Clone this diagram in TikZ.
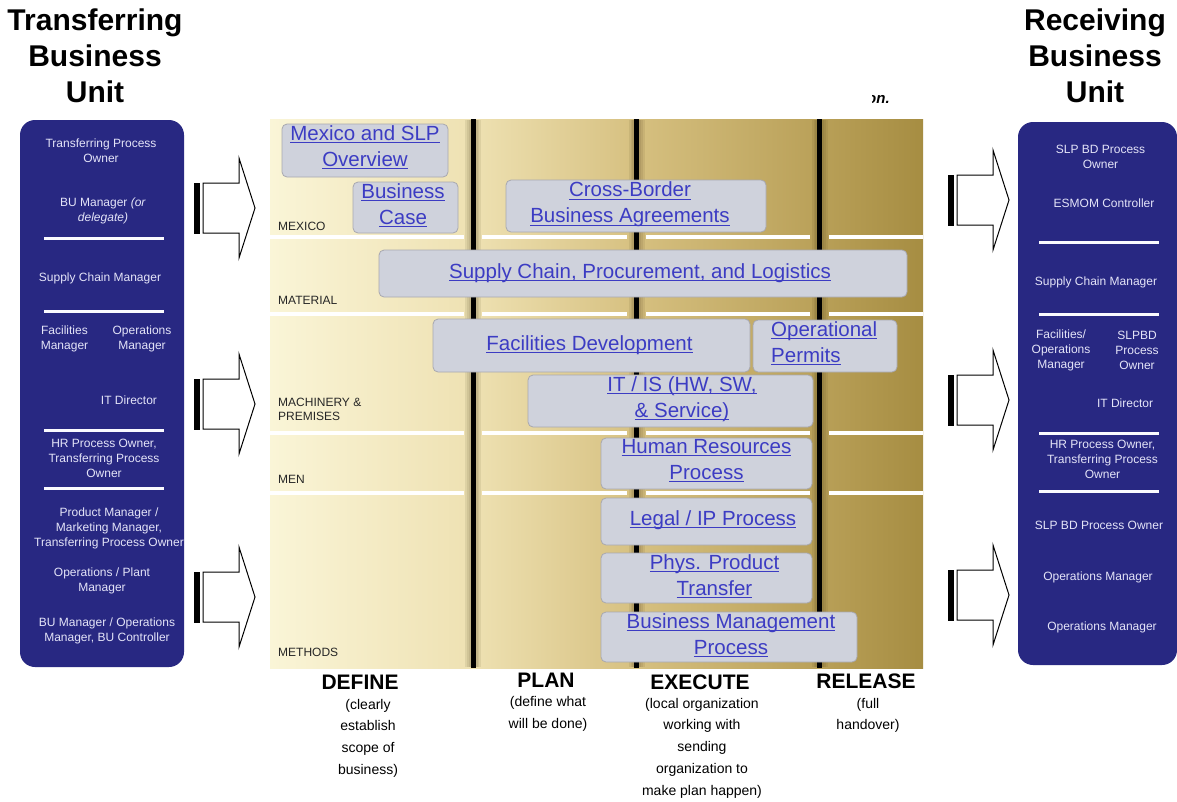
\documentclass[tikz,border=0pt]{standalone}
\usepackage{fontspec}
\setmainfont{Liberation Sans}

\definecolor{unitblue}{RGB}{40,40,130}
\definecolor{unittext}{RGB}{228,228,248}
\definecolor{unitrulec}{RGB}{250,250,255}
\definecolor{linkblue}{RGB}{60,60,195}
\definecolor{boxfill}{RGB}{207,210,220}
\definecolor{boxline}{RGB}{168,168,175}
\definecolor{goldA}{RGB}{250,245,215}
\definecolor{goldB}{RGB}{238,225,178}
\definecolor{goldC}{RGB}{214,192,128}
\definecolor{goldD}{RGB}{185,160,88}
\definecolor{goldE}{RGB}{166,141,66}
\definecolor{glowc}{RGB}{70,55,20}

% underlined hyperlink-style text
\newlength\lnkwd
\newcommand\lnk[1]{\settowidth{\lnkwd}{#1}\rlap{\rule[-2.6pt]{\lnkwd}{0.9pt}}#1}

\tikzset{
  unitpanel/.style={fill=unitblue, rounded corners=15pt},
  unittxt/.style={text=unittext, align=center, inner sep=0pt, font=\fontsize{12}{15}\selectfont},
  unitrule/.style={draw=unitrulec, line width=3pt},
  unittitle/.style={align=center, inner sep=0pt, font=\bfseries\fontsize{30}{36}\selectfont},
  rowlbl/.style={anchor=west, align=left, inner sep=0pt, font=\fontsize{12}{14.5}\selectfont, text=black!85},
  rowsep/.style={draw=white, line width=3.5pt},
  phaseglow/.style={draw=glowc, opacity=0.09, line width=#1},
  phaseline/.style={draw=black, line width=5pt},
  stagebox/.style={draw=boxline, fill=boxfill, rounded corners=5pt, line width=0.8pt, inner sep=0pt},
  linktxt/.style={text=linkblue, align=center, inner sep=0pt, font=\fontsize{20.5}{26}\selectfont},
  phasehead/.style={inner sep=0pt, font=\bfseries\fontsize{21}{25}\selectfont},
  phasenote/.style={align=center, inner sep=0pt, font=\fontsize{14}{21.7}\selectfont},
  blockarrow/.pic={
    \draw[fill=white, line width=1pt, line join=miter]
      (9,-25) -- (45,-25) -- (45,-50) -- (61,0) -- (45,50) -- (45,25) -- (9,25) -- cycle;
    \fill[black] (0,-25.5) rectangle (6,25.5);
  }
}

\begin{document}
\begin{tikzpicture}[x=1pt,y=-1pt]
\useasboundingbox (0,0) rectangle (1177,801);
\fill[white] (0,0) rectangle (1177,801);

% ---------- titles ----------
\node[unittitle] (ttrans) at (95,56) {Transferring\\Business\\Unit};
\node[unittitle] (trecv) at (1095,56) {Receiving\\Business\\Unit};

% ---------- transferring unit panel ----------
\fill[unitpanel] (20,120) rectangle (184,667);
\foreach \y in {238,311,430,488} \draw[unitrule] (44,\y) -- (164,\y);
\node[unittxt] (l1) at (101,150.5) {Transferring Process\\Owner};
\node[unittxt] (l2) at (103,210.5) {BU Manager \textit{(or}\\\textit{delegate)}};
\node[unittxt] (l3) at (100,278) {Supply Chain Manager};
\node[unittxt] (l4) at (64.5,338.5) {Facilities\\Manager};
\node[unittxt] (l5) at (142,338.5) {Operations\\Manager};
\node[unittxt] (l6) at (129,400) {IT Director};
\node[unittxt] (l7) at (104,458) {HR Process Owner,\\Transferring Process\\Owner};
\node[unittxt] (l8) at (109,528) {Product Manager /\\Marketing Manager,\\Transferring Process Owner};
\node[unittxt] (l9) at (102,580.5) {Operations / Plant\\Manager};
\node[unittxt] (l10) at (107,630.5) {BU Manager / Operations\\Manager, BU Controller};

% ---------- receiving unit panel ----------
\fill[unitpanel] (1018,122) rectangle (1177,665);
\foreach \y in {242,314,433,491} \draw[unitrule] (1039,\y) -- (1159,\y);
\node[unittxt] (r1) at (1100.5,157) {SLP BD Process\\Owner};
\node[unittxt] (r2) at (1104,203) {ESMOM Controller};
\node[unittxt] (r3) at (1096,282) {Supply Chain Manager};
\node[unittxt] (r4) at (1061,350.5) {Facilities/\\Operations\\Manager};
\node[unittxt] (r5) at (1137,350.5) {SLPBD\\Process\\Owner};
\node[unittxt] (r6) at (1125,403) {IT Director};
\node[unittxt] (r7) at (1102.5,459) {HR Process Owner,\\Transferring Process\\Owner};
\node[unittxt] (r8) at (1099,525) {SLP BD Process Owner};
\node[unittxt] (r9) at (1098,577) {Operations Manager};
\node[unittxt] (r10) at (1102,627) {Operations Manager};

% ---------- block arrows ----------
\foreach \y in {208,404,597} \pic at (194,\y) {blockarrow};
\foreach \y in {200,400,595} \pic at (948,\y) {blockarrow};

% ---------- phase board background ----------
\shade[left color=goldA, right color=goldB] (270,119) rectangle (473.5,668);
\shade[left color=goldB, right color=goldC] (473,119) rectangle (637,668);
\shade[left color=goldC, right color=goldD] (636.5,119) rectangle (820,668);
\shade[left color=goldD, right color=goldE] (819.5,119) rectangle (923,668);

% row separators, broken at the phase lines
\foreach \y in {237,314,433,493} {
  \draw[rowsep] (270,\y) -- (464,\y);
  \draw[rowsep] (482,\y) -- (627,\y);
  \draw[rowsep] (646,\y) -- (810,\y);
  \draw[rowsep] (829,\y) -- (923,\y);
}

% phase separators with a soft shadow
\foreach \x in {473,636.5,819.5} {
  \foreach \w in {16,12,9} \draw[phaseglow=\w pt] (\x,120) -- (\x,667);
  \draw[phaseline] (\x,119) -- (\x,668);
}

% row labels
\node[rowlbl] (rmex) at (278,226) {MEXICO};
\node[rowlbl] (rmat) at (278,300) {MATERIAL};
\node[rowlbl] (rmach) at (278,409.5) {MACHINERY \&\\PREMISES};
\node[rowlbl] (rmen) at (278,479) {MEN};
\node[rowlbl] (rmeth) at (278,652) {METHODS};

% ---------- stage boxes ----------
\node[stagebox, minimum width=166pt, minimum height=53pt] (bmex) at (365,150.5) {};
\node[linktxt] (tmex) at (365,147) {\lnk{Mexico and SLP}\\\lnk{Overview}};

\node[stagebox, minimum width=105pt, minimum height=51pt] (bcase) at (405.5,207.5) {};
\node[linktxt] (tcase) at (403,205.5) {\lnk{Business}\\\lnk{Case}};

\node[stagebox, minimum width=260pt, minimum height=52pt] (bxb) at (636,206) {};
\node[linktxt] (txb) at (630,204.5) {\lnk{Cross-Border}\\\lnk{Business Agreements}};

\node[stagebox, minimum width=528pt, minimum height=47pt] (bscm) at (643,273.5) {};
\node[linktxt] (tscm) at (640,273) {\lnk{Supply Chain, Procurement, and Logistics}};

\node[stagebox, minimum width=317pt, minimum height=53pt] (bfac) at (591.5,345.5) {};
\node[linktxt] (tfac) at (589.5,345) {\lnk{Facilities Development}};

\node[stagebox, minimum width=144pt, minimum height=52pt] (bperm) at (825,346) {};
\node[linktxt, anchor=west, align=left] (tperm) at (771,343.5) {\lnk{Operational}\\\lnk{Permits}};

\node[stagebox, minimum width=285pt, minimum height=52pt] (bit) at (670.5,401) {};
\node[linktxt] (tit) at (682,399) {\lnk{IT / IS (HW, SW,}\\\lnk{\& Service)}};

\node[stagebox, minimum width=211pt, minimum height=51pt] (bhr) at (706.5,463.5) {};
\node[linktxt] (thr) at (706.5,460.5) {\lnk{Human Resources}\\\lnk{Process}};

\node[stagebox, minimum width=211pt, minimum height=47pt] (blegal) at (706.5,521.5) {};
\node[linktxt] (tlegal) at (713,520) {\lnk{Legal / IP Process}};

\node[stagebox, minimum width=211pt, minimum height=50pt] (bphys) at (706.5,578) {};
\node[linktxt] (tphys) at (714.5,576.5) {\lnk{Phys. Product}\\\lnk{Transfer}};

\node[stagebox, minimum width=256pt, minimum height=50pt] (bbmp) at (729,637) {};
\node[linktxt] (tbmp) at (731,635) {\lnk{Business Management}\\\lnk{Process}};

% ---------- phase captions ----------
\node[phasehead] (pdef) at (360,682) {DEFINE};
\node[phasenote] (ndef) at (368,738) {(clearly\\establish\\scope of\\business)};
\node[phasehead] (pplan) at (546,680) {PLAN};
\node[phasenote] (nplan) at (548,714) {(define what\\will be done)};
\node[phasehead] (pexe) at (700,682) {EXECUTE};
\node[phasenote] (nexe) at (702,748) {(local organization\\working with\\sending\\organization to\\make plan happen)};
\node[phasehead] (prel) at (866,681) {RELEASE};
\node[phasenote] (nrel) at (868,715.5) {(full\\handover)};

% clipped heading fragment above the board
\begin{scope}
  \clip (872,85) rectangle (905,115);
  \node[anchor=west, inner sep=0pt, font=\bfseries\itshape\fontsize{15}{17}\selectfont] (frag) at (867,100) {on.};
\end{scope}
\end{tikzpicture}
\end{document}
